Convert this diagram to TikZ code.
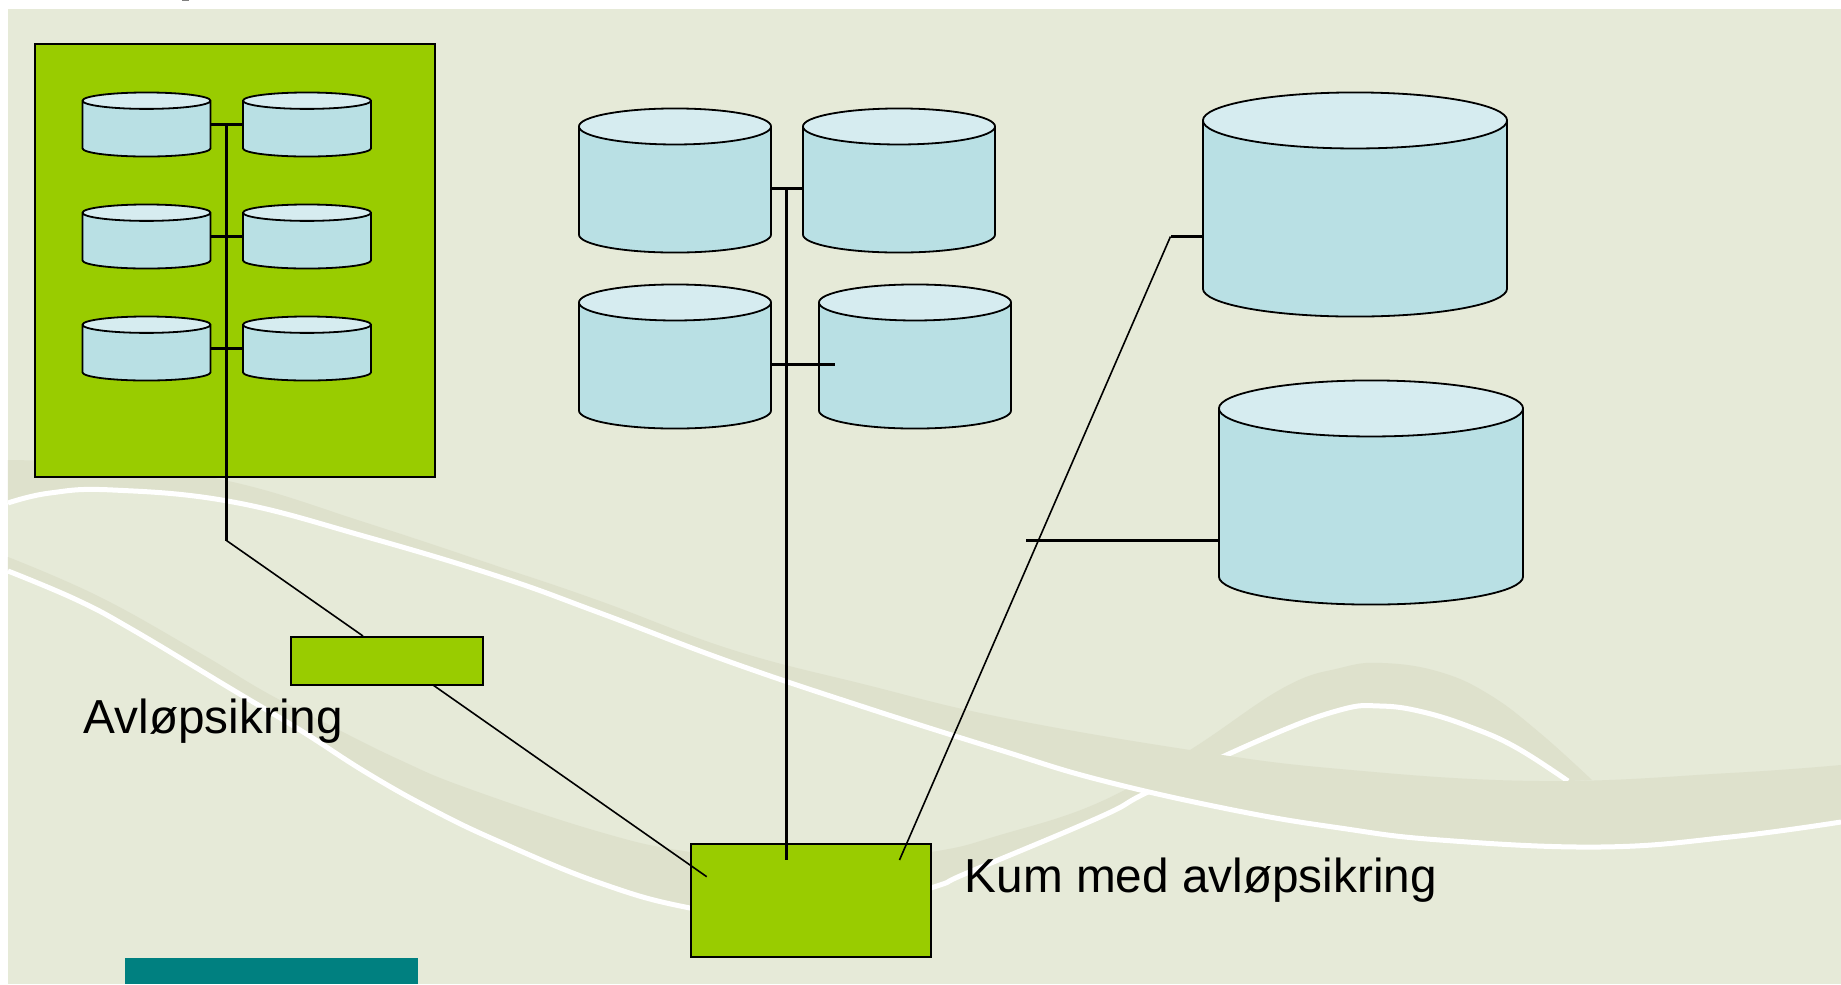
\documentclass[tikz,border=0pt]{standalone}
\usepackage{fontspec}
\setmainfont{Liberation Sans}
\usepackage{xcolor}
\usetikzlibrary{shapes.geometric, positioning, calc}
\definecolor{panelcol}{HTML}{E6EAD8}
\definecolor{bandcol}{HTML}{DEE1CC}
\definecolor{greencol}{HTML}{99CC00}
\definecolor{tealcol}{HTML}{008080}
\definecolor{bodycol}{HTML}{B9E0E4}
\definecolor{topcol}{HTML}{D6ECF0}
\tikzset{
  tank/.style={cylinder, anchor=shape center, draw=black, line width=0.018cm, shape border rotate=90, cylinder uses custom fill,
    cylinder body fill=bodycol, cylinder end fill=topcol, inner sep=0.1cm, outer sep=0pt},
  smalltank/.style={tank, aspect=0.82, minimum width=1.28cm, minimum height=0.64cm},
  midtank/.style={tank, aspect=1.8, minimum width=1.92cm, minimum height=1.44cm},
  bigtank/.style={tank, aspect=2.8, minimum width=3.04cm, minimum height=2.24cm},
  greenbox/.style={draw=black, line width=0.02cm, fill=greencol, inner sep=0pt, outer sep=0pt},
  pipe/.style={line width=0.024cm},
  widepipe/.style={line width=0.03cm},
  thinpipe/.style={line width=0.016cm},
  textlabel/.style={font=\fontsize{13.57pt}{16pt}\selectfont, inner sep=0pt, anchor=base west},
  swoosh/.style={white, line width=0.05cm},
  curve/.style={smooth, tension=0.7}
}
\begin{document}
\begin{tikzpicture}[x=0.01cm, y=-0.01cm]
    \useasboundingbox (0,0) rectangle (1841,984);
    % background with the swooshes
    \fill[panelcol] (8,9) rectangle (1841,984);
    \fill[gray] (182,0) rectangle (189,1.3);
    \begin{scope}
        \clip (8,9) rectangle (1841,984);
        \fill[bandcol] plot[curve] coordinates {(8,557) (100,597) (200,653) (267,693) (333,727) (400,760) (467,788) (600,832) (690,852) (810,865) (931,852) (1000,835) (1100,802) (1190,750) (1283,688) (1340,668) (1383,663) (1440,672) (1490,695) (1540,733) (1592,780)}
            -- plot[curve] coordinates {(1568,781) (1517,748) (1473,728) (1423,712) (1380,706) (1340,710) (1267,737) (1150,791) (1100,817) (967,873) (931,888) (810,925) (690,908) (600,883) (500,842) (433,810) (367,773) (300,730) (233,690) (133,630) (77,600) (8,571)} -- cycle;
        \draw[swoosh] plot[curve] coordinates {(1568,781) (1517,748) (1473,728) (1423,712) (1380,706) (1340,710) (1267,737) (1150,791) (1100,817) (967,873) (931,888) (810,925) (690,908) (600,883) (500,842) (433,810) (367,773) (300,730) (233,690) (133,630) (77,600) (8,571)};
        \fill[bandcol] plot[curve] coordinates {(8,460) (120,465) (237,483) (367,523) (500,567) (600,601) (733,650) (867,685) (1000,717) (1190,750) (1340,769) (1540,781) (1730,773) (1841,765)}
            -- plot[curve] coordinates {(1841,822) (1730,837) (1600,847) (1440,840) (1340,828) (1233,810) (1100,780) (1000,750) (867,708) (733,663) (600,613) (500,577) (367,537) (233,502) (113,490) (50,493) (8,503)} -- cycle;
        \draw[swoosh] plot[curve] coordinates {(1841,822) (1730,837) (1600,847) (1440,840) (1340,828) (1233,810) (1100,780) (1000,750) (867,708) (733,663) (600,613) (500,577) (367,537) (233,502) (113,490) (50,493) (8,503)};
    \end{scope}
    \fill[tealcol] (125,958) rectangle (418,984);

    % tank room with six tanks
    \node[greenbox, minimum width=4.00cm, minimum height=4.33cm] (room) at (234.7,260.5) {};
    \foreach \rowname/\ypos in {a/124.5, b/236.5, c/348.5} {
        \node[smalltank] (l\rowname) at (146.5,\ypos) {};
        \node[smalltank] (r\rowname) at (307,\ypos) {};
        \draw[pipe] (l\rowname.east |- l\rowname.shape center) -- (r\rowname.west |- r\rowname.shape center);
    }
    \coordinate (trunktop) at (226.5,124.5);
    \coordinate (bend) at (226.5,540.5);

    % middle tanks
    \node[midtank] (m1) at (675,180.5) {};
    \node[midtank] (m2) at (899,180.5) {};
    \node[midtank] (m3) at (675,356.5) {};
    \node[midtank] (m4) at (915,356.5) {};
    \coordinate (m4end) at (835,364.5);
    \coordinate (midtop) at (786.5,188.5);
    \coordinate (midend) at (786.5,860);
    \draw[widepipe] ($(m1.east |- m1.shape center)+(0,8)$) -- ($(m2.west |- m2.shape center)+(0,8)$);
    \draw[widepipe] ($(m3.east |- m3.shape center)+(0,8)$) -- (m4end);

    % big tanks
    \node[bigtank] (b1) at (1355,204.5) {};
    \node[bigtank] (b2) at (1371,492.5) {};
    \coordinate (b1elbow) at (1170.5,236.5);
    \coordinate (b2end) at (1026,540);
    \coordinate (kumend) at (899.5,860);
    \draw[widepipe] ($(b2.west |- b2.shape center)+(0,47.5)$) -- (b2end);

    % backflow valve and manhole
    \node[greenbox, minimum width=1.925cm, minimum height=0.483cm] (valve) at (387,660.8) {};
    \node[greenbox, minimum width=2.403cm, minimum height=1.124cm] (kum) at (811,900.5) {};
    \coordinate (valvetop) at (363,636);
    \coordinate (valvebot) at (433,685);
    \coordinate (kumleft) at (706.7,876.7);
    \draw[pipe] (trunktop) -- (bend);
    \draw[thinpipe] (bend) -- (valvetop);
    \draw[thinpipe] (valvebot) -- (kumleft);
    \draw[widepipe] (midtop) -- (midend);
    \draw[widepipe] ($(b1.west |- b1.shape center)+(0,32)$) -- (b1elbow);
    \draw[thinpipe] (b1elbow) -- (kumend);

    \node[textlabel] (valvelabel) at (83,733) {Avløpsikring};
    \node[textlabel] (kumlabel) at (964,892) {Kum med avløpsikring};
\end{tikzpicture}
\end{document}
